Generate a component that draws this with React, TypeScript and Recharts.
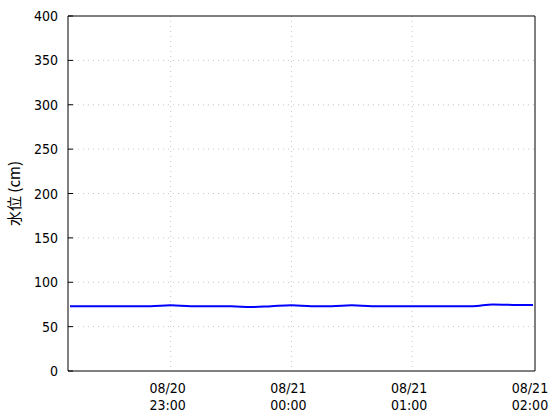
import React from "react";
import { LineChart, Line, XAxis, YAxis, CartesianGrid } from "recharts";

// Observation times (08/20 22:10 – 08/21 02:00), 10-minute step
const times = [
  "22:10", "22:20", "22:30", "22:40", "22:50", "23:00",
  "23:10", "23:20", "23:30", "23:40", "23:50", "00:00",
  "00:10", "00:20", "00:30", "00:40", "00:50", "01:00",
  "01:10", "01:20", "01:30", "01:40", "01:50", "02:00",
];
// Water level (cm)
const levels = [
  73, 73, 73, 73, 73, 74,
  73, 73, 73, 72, 73, 74,
  73, 73, 74, 73, 73, 73,
  73, 73, 73, 75, 74.5, 74.5,
];
const yTicks = [0, 50, 100, 150, 200, 250, 300, 350, 400];
const xTickLabels = [
  { t: "23:00", date: "08/20" },
  { t: "00:00", date: "08/21" },
  { t: "01:00", date: "08/21" },
  { t: "02:00", date: "08/21" },
];

// minutes since 08/20 22:00
const toMin = (s: string) => {
  const [h, m] = s.split(":").map(Number);
  const hh = h >= 22 ? h - 22 : h + 2;
  return hh * 60 + m;
};

const data = times.map((t, i) => ({ x: toMin(t), level: levels[i] }));
const xTicks = xTickLabels.map((d) => toMin(d.t));

const FONT = "'Liberation Sans Narrow', 'DejaVu Sans Condensed', 'Noto Sans', sans-serif";

const XTick = (props: any) => {
  const { x, y, payload } = props;
  const item = xTickLabels.find((d) => toMin(d.t) === payload.value);
  if (!item) return <g />;
  return (
    <g transform={`translate(${x},${y})`}>
      <text x={-3} y={14} textAnchor="middle" fontFamily={FONT} fontSize={14} fill="#000">
        {item.date}
      </text>
      <text x={-3} y={31} textAnchor="middle" fontFamily={FONT} fontSize={14} fill="#000">
        {item.t}
      </text>
    </g>
  );
};

// left tick: label plus inward tick mark (label anchor x is 10px left of axis)
const LeftTick = (props: any) => {
  const { x, y, payload } = props;
  return (
    <g>
      <line x1={x + 10} y1={y} x2={x + 15} y2={y} stroke="#000" strokeWidth={1} />
      <text x={x} y={y} dy={5} textAnchor="end" fontFamily={FONT} fontSize={14} fill="#000">
        {payload.value}
      </text>
    </g>
  );
};

// right tick: inward tick mark only (anchor x is 0 px right of axis)
const RightTick = (props: any) => {
  const { x, y } = props;
  return <line x1={x - 5} y1={y} x2={x} y2={y} stroke="#000" strokeWidth={1} />;
};

export default function App() {
  return (
    <div style={{ position: "absolute", left: 0, top: 0, width: 560, height: 420, background: "#fff" }}>
      <LineChart
        width={560}
        height={420}
        data={data}
        margin={{ top: 15, right: 24, left: 8, bottom: 0 }}
      >
        <CartesianGrid
          stroke="#c8c8c8"
          strokeDasharray="1 4"
          horizontalValues={[50, 100, 150, 200, 250, 300, 350]}
          verticalValues={[60, 120, 180]}
        />
        <XAxis
          dataKey="x"
          type="number"
          domain={[9, 241]}
          ticks={xTicks}
          allowDataOverflow
          height={49}
          axisLine={{ stroke: "#000" }}
          tickLine={false}
          tick={<XTick />}
          interval={0}
        />
        <XAxis
          xAxisId="top"
          orientation="top"
          dataKey="x"
          type="number"
          domain={[9, 241]}
          height={1}
          axisLine={{ stroke: "#000" }}
          tickLine={false}
          tick={false}
        />
        <YAxis
          domain={[0, 400]}
          ticks={yTicks}
          width={60}
          axisLine={{ stroke: "#000" }}
          tickLine={false}
          tickSize={0}
          tickMargin={10}
          tick={<LeftTick />}
          interval={0}
          label={{
            value: "水位 (cm)",
            angle: -90,
            position: "insideLeft",
            dx: 2,
            style: { fontFamily: "'Noto Sans CJK JP', sans-serif", fontSize: 15, fill: "#000", textAnchor: "middle" },
          }}
        />
        <YAxis
          yAxisId="right"
          orientation="right"
          domain={[0, 400]}
          ticks={yTicks}
          width={1}
          axisLine={{ stroke: "#000" }}
          tickLine={false}
          tickSize={0}
          tickMargin={0}
          tick={<RightTick />}
          interval={0}
        />
        <Line
          type="monotone"
          dataKey="level"
          stroke="#0000ff"
          strokeWidth={2}
          dot={false}
          isAnimationActive={false}
        />
      </LineChart>
    </div>
  );
}
